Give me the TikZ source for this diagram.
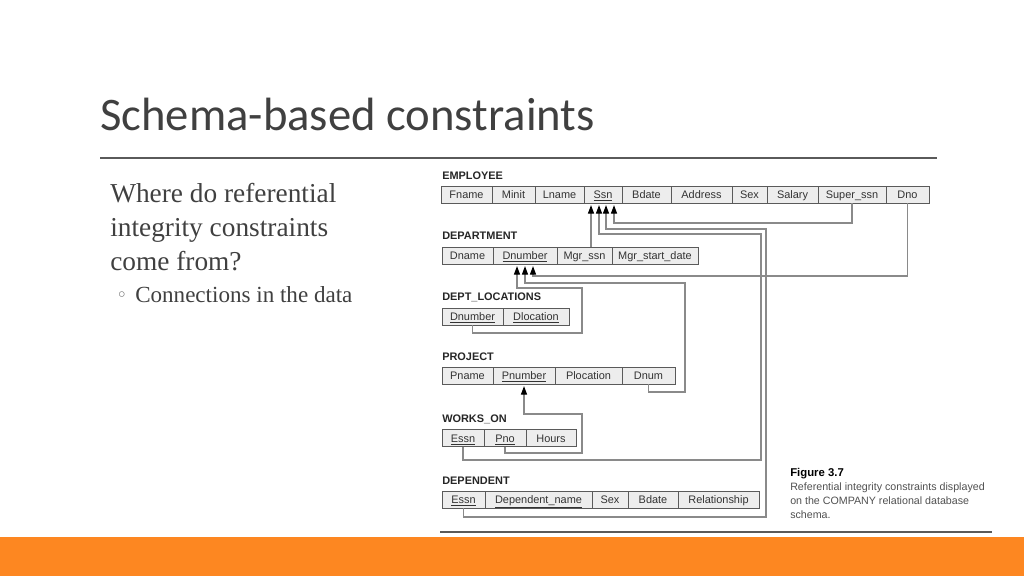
\documentclass[tikz,border=0pt]{standalone}
\usepackage{fontspec}
\setsansfont{Liberation Sans}
\newfontfamily\titlefont{Carlito}
\newfontfamily\bodyfont{Liberation Serif}
\newfontfamily\symfont{DejaVu Sans}
\usetikzlibrary{calc,arrows.meta}
\definecolor{slidetext}{HTML}{404040}
\definecolor{rulegray}{HTML}{5A5A5A}
\definecolor{cellfill}{HTML}{EDEDED}
\definecolor{cellline}{HTML}{5A5A5A}
\definecolor{linkgray}{HTML}{8A8A8A}
\definecolor{captext}{HTML}{505050}
\definecolor{barorange}{HTML}{FD8721}
\newcommand{\keyatt}[1]{\underline{#1}}

\begin{document}
\begin{tikzpicture}[x=0.75pt,y=-0.75pt,
    cell/.style={draw=cellline,fill=cellfill,line width=0.6pt,anchor=west,outer sep=0pt,inner sep=0pt,
      minimum height=12.75pt,minimum width=#1*0.75pt,text height=7pt,text depth=1pt,
      text=black!80,font=\sffamily\fontsize{8.2}{9}\selectfont},
    relname/.style={anchor=base west,inner sep=0pt,text=black!85,font=\sffamily\bfseries\fontsize{8.2}{9}\selectfont},
    fk/.style={draw=linkgray,line width=1pt,-{Triangle[black,length=6.5pt,width=4.5pt]},shorten >=1.5pt},
    bodyline/.style={anchor=base west,inner sep=0pt,text=slidetext,font=\bodyfont\fontsize{20.5}{24}\selectfont},
    capline/.style={anchor=base west,inner sep=0pt,text=captext,font=\sffamily\fontsize{8}{9}\selectfont}]
  \useasboundingbox (0,0) rectangle (1024,576);
  \fill[barorange] (0,537) rectangle (1024,576);

  % slide text
  \node[anchor=base west,inner sep=0pt,text=slidetext,font=\titlefont\fontsize{35}{40}\selectfont] (title) at (100,130) {Schema-based constraints};
  \draw[rulegray,line width=0.8pt] (100,158) -- (937,158);
  \node[bodyline] (q1) at (110,202) {Where do referential};
  \node[bodyline] (q2) at (110,236) {integrity constraints};
  \node[bodyline] (q3) at (110,270) {come from?};
  \node[anchor=base,inner sep=0pt,text=slidetext!80,font=\symfont\fontsize{14}{16}\selectfont] (bullet) at (122,301) {◦};
  \node[bodyline,font=\bodyfont\fontsize{17.3}{20}\selectfont] (q4) at (135,302) {Connections in the data};

  % EMPLOYEE
  \node[relname] (employee) at (442,179) {EMPLOYEE};
  \node[cell=51] (fname) at (441,194.5) {Fname};
  \node[cell=43] (minit) at (fname.east) {Minit};
  \node[cell=49] (lname) at (minit.east) {Lname};
  \node[cell=38] (ssn) at (lname.east) {\keyatt{Ssn}};
  \node[cell=49] (bdate) at (ssn.east) {Bdate};
  \node[cell=61] (address) at (bdate.east) {Address};
  \node[cell=35] (sex) at (address.east) {Sex};
  \node[cell=51] (salary) at (sex.east) {Salary};
  \node[cell=68] (superssn) at (salary.east) {Super\_ssn};
  \node[cell=43] (dno) at (superssn.east) {Dno};

  % DEPARTMENT
  \node[relname] (department) at (442,239) {DEPARTMENT};
  \node[cell=51] (dname) at (442,255.5) {Dname};
  \node[cell=64] (dnumber) at (dname.east) {\keyatt{Dnumber}};
  \node[cell=55] (mgrssn) at (dnumber.east) {Mgr\_ssn};
  \node[cell=86] (mgrdate) at (mgrssn.east) {Mgr\_start\_date};

  % DEPT_LOCATIONS
  \node[relname] (deptloc) at (442,300) {DEPT\_LOCATIONS};
  \node[cell=61] (dldnumber) at (442,316.5) {\keyatt{Dnumber}};
  \node[cell=66] (dllocation) at (dldnumber.east) {\keyatt{Dlocation}};

  % PROJECT
  \node[relname] (project) at (442,360) {PROJECT};
  \node[cell=51] (pname) at (442,375.5) {Pname};
  \node[cell=62] (pnumber) at (pname.east) {\keyatt{Pnumber}};
  \node[cell=67] (plocation) at (pnumber.east) {Plocation};
  \node[cell=53] (dnum) at (plocation.east) {Dnum};

  % WORKS_ON
  \node[relname] (workson) at (442,422) {WORKS\_ON};
  \node[cell=42] (wessn) at (442,438) {\keyatt{Essn}};
  \node[cell=42] (pno) at (wessn.east) {\keyatt{Pno}};
  \node[cell=50] (hours) at (pno.east) {Hours};

  % DEPENDENT
  \node[relname] (dependent) at (442,484) {DEPENDENT};
  \node[cell=43] (dessn) at (442,499.5) {\keyatt{Essn}};
  \node[cell=107] (depname) at (dessn.east) {\keyatt{Dependent\_name}};
  \node[cell=36] (depsex) at (depname.east) {Sex};
  \node[cell=50] (depbdate) at (depsex.east) {Bdate};
  \node[cell=81] (relationship) at (depbdate.east) {Relationship};

  % arrow ends
  \coordinate (s1) at ($(ssn.south)+(-12,0)$);
  \coordinate (s2) at ($(ssn.south)+(-4,0)$);
  \coordinate (s3) at ($(ssn.south)+(3,0)$);
  \coordinate (s4) at ($(ssn.south)+(11,0)$);
  \coordinate (d1) at ($(dnumber.south)+(-8,0)$);
  \coordinate (d2) at (dnumber.south);
  \coordinate (d3) at ($(dnumber.south)+(8,0)$);

  \draw[fk] (s1 |- mgrssn.north) -- (s1);
  \draw[fk] (wessn.south) |- (761,460) |- ($(s2)+(0,31)$) -- (s2);
  \draw[fk] (dessn.south) |- (766,517) |- ($(s3)+(0,26)$) -- (s3);
  \draw[fk] (superssn.south) |- ($(s4)+(0,20)$) -- (s4);
  \draw[fk] (dno.south) |- ($(d3)+(0,12)$) -- (d3);
  \draw[fk] (dnum.south) |- (685,392) |- ($(d2)+(0,19)$) -- (d2);
  \draw[fk] (dldnumber.south) |- (582,333) |- ($(d1)+(0,24)$) -- (d1);
  \draw[fk] (pno.south) |- (582,453) |- ($(pnumber.south)+(0,30)$) -- (pnumber.south);

  % caption
  \node[capline,text=black,font=\sffamily\bfseries\fontsize{8.5}{9}\selectfont] (figno) at (790,476) {Figure 3.7};
  \node[capline] (cap1) at (790,490) {Referential integrity constraints displayed};
  \node[capline] (cap2) at (790,504) {on the COMPANY relational database};
  \node[capline] (cap3) at (790,518) {schema.};
  \draw[rulegray,line width=0.8pt] (440,532) -- (992,532);
\end{tikzpicture}
\end{document}
